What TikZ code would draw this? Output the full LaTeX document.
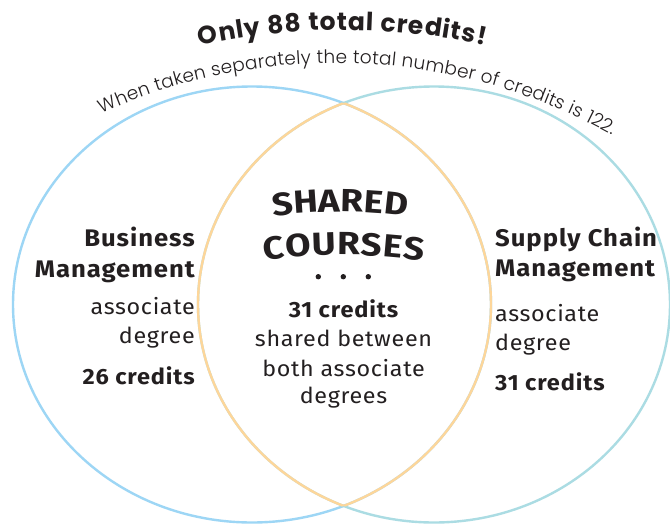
\documentclass[tikz,border=0pt]{standalone}
\usepackage{fontspec}
\setmainfont{Fira Sans}[FakeStretch=1.06, LetterSpace=3]
\newfontfamily\headfont{Fira Sans}[FakeStretch=1.07, LetterSpace=4]
\newfontfamily\widefont{Fira Sans}[FakeStretch=1.15]
\newfontfamily\titlefont{Poppins}
\newfontfamily\thinfont{Poppins}[UprightFont=* Light]
\usetikzlibrary{decorations.text}
\definecolor{ink}{HTML}{231F20}
\definecolor{leftblue}{HTML}{9DD6F5}
\definecolor{rightteal}{HTML}{ABDCE3}
\definecolor{lensorange}{HTML}{FDD69A}
\tikzset{
  ring/.style={line width=2.4},
  headtxt/.style={inner sep=0, text=ink, font=\headfont\fontsize{24}{24}\selectfont\bfseries},
  bodytxt/.style={inner sep=0, text=ink, font=\fontsize{22}{22}\selectfont},
  boldtxt/.style={inner sep=0, text=ink, font=\headfont\fontsize{22}{22}\selectfont\bfseries},
  dotmark/.style={circle, fill=ink, inner sep=0, minimum size=5.4}
}
\begin{document}
\begin{tikzpicture}[x=1pt,y=-1pt]
\useasboundingbox (0,0) rectangle (670,523);
\fill[white] (0,0) rectangle (670,523);
% circles
\draw[ring, leftblue] (252,304.5) ellipse [x radius=239, y radius=218];
\draw[ring, rightteal] (434,304.5) ellipse [x radius=236, y radius=218];
\begin{scope}
  \clip (434,304.5) ellipse [x radius=236, y radius=218];
  \draw[ring, lensorange] (252,304.5) ellipse [x radius=239, y radius=218];
\end{scope}
\begin{scope}
  \clip (252,304.5) ellipse [x radius=239, y radius=218];
  \draw[ring, lensorange] (434,304.5) ellipse [x radius=236, y radius=218];
\end{scope}
% curved title texts
\path[decorate, decoration={text along path, text align={fit to path}, text color=ink,
  text={|\titlefont\bfseries\fontsize{25}{25}\selectfont|Only 88 total credits!}}]
  (343,691) ++(257.5:661) arc[start angle=257.5, end angle=282.4, radius=661];
\path[decorate, decoration={text along path, text align={fit to path}, text color=ink,
  text={|\thinfont\fontsize{18.5}{18.5}\selectfont|When taken separately the total number of credits is 122.}}]
  (335,630) ++(245.7:567) arc[start angle=245.7, end angle=299.2, radius=567];
\path[decorate, decoration={text along path, text align={fit to path}, text color=ink,
  text={|\widefont\bfseries\fontsize{32}{32}\selectfont|SHARED}}]
  (340,711.7) ++(262.3:500) arc[start angle=262.3, end angle=277.7, radius=500];
\path[decorate, decoration={text along path, text align={fit to path}, text color=ink,
  text={|\widefont\bfseries\fontsize{32}{32}\selectfont|COURSES}}]
  (344,805) ++(261.7:550) arc[start angle=261.7, end angle=278.3, radius=550];
\node[dotmark] (d1) at (318.3,276.7) {};
\node[dotmark] (d2) at (343.3,276.7) {};
\node[dotmark] (d3) at (368.3,276.7) {};
% left block
\node[headtxt, anchor=base east] (lb1) at (195,246.7) {Business};
\node[headtxt, anchor=base east] (lb2) at (195,277) {Management};
\node[bodytxt, anchor=base east] (lb3) at (195,314.3) {associate};
\node[bodytxt, anchor=base east] (lb4) at (195,343) {degree};
\node[boldtxt, anchor=base east] (lb5) at (195,384) {26 credits};
% right block
\node[headtxt, anchor=base west] (rb1) at (495,246.7) {Supply Chain};
\node[headtxt, anchor=base west] (rb2) at (495,276.7) {Management};
\node[bodytxt, anchor=base west] (rb3) at (495,321.7) {associate};
\node[bodytxt, anchor=base west] (rb4) at (495,350) {degree};
\node[boldtxt, anchor=base west] (rb5) at (495,390) {31 credits};
% center block
\node[boldtxt, anchor=base] (c1) at (343.5,317) {31 credits};
\node[bodytxt, anchor=base] (c2) at (343.5,346.7) {shared between};
\node[bodytxt, anchor=base] (c3) at (343.5,376) {both associate};
\node[bodytxt, anchor=base] (c4) at (343.5,403.3) {degrees};
\end{tikzpicture}
\end{document}
